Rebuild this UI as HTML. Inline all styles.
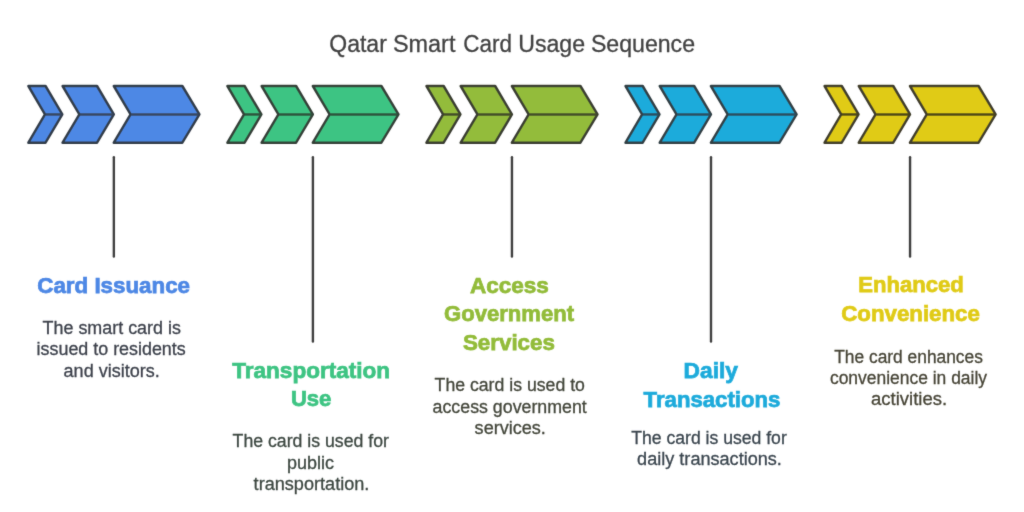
<!DOCTYPE html>
<html lang="en">
<head>
<meta charset="utf-8">
<title>Qatar Smart Card Usage Sequence</title>
<style>
html,body{margin:0;padding:0;background:#fff;}
body{width:1024px;height:512px;overflow:hidden;}
svg{display:block;}
text{font-family:"Liberation Sans",sans-serif;}
</style>
</head>
<body>
<svg width="1024" height="512" viewBox="0 0 1024 512">
<defs><filter id="soft" x="0" y="0" width="1024" height="512" filterUnits="userSpaceOnUse"><feConvolveMatrix order="3" kernelMatrix="0.0113 0.0838 0.0113 0.0838 0.6193 0.0838 0.0113 0.0838 0.0113" edgeMode="duplicate" preserveAlpha="false"/></filter></defs>
<rect width="1024" height="512" fill="#ffffff"/>
<g filter="url(#soft)">
<g fill="#4E88E5" stroke="#333C4A" stroke-width="2.5" stroke-linejoin="round" stroke-linecap="round">
<path d="M28.40 86.00L45.50 86.00L62.30 114.45L45.50 142.70L28.40 142.70L45.00 114.45Z"/>
<path d="M62.60 86.00L97.00 86.00L113.80 114.45L97.00 142.70L62.60 142.70L79.40 114.45Z"/>
<path d="M113.80 86.00L182.30 86.00L199.40 114.45L182.30 142.70L113.80 142.70L130.60 114.45Z"/>
</g>
<g fill="none" stroke="#38465F" stroke-width="2.5" stroke-linecap="butt">
<path d="M45.60 114.45L61.70 114.45"/>
<path d="M80.00 114.45L113.20 114.45"/>
<path d="M131.20 114.45L198.80 114.45"/>
</g>
<g fill="#3EC483" stroke="#344039" stroke-width="2.5" stroke-linejoin="round" stroke-linecap="round">
<path d="M227.45 86.00L244.55 86.00L261.35 114.45L244.55 142.70L227.45 142.70L244.05 114.45Z"/>
<path d="M261.65 86.00L296.05 86.00L312.85 114.45L296.05 142.70L261.65 142.70L278.45 114.45Z"/>
<path d="M312.85 86.00L381.35 86.00L398.45 114.45L381.35 142.70L312.85 142.70L329.65 114.45Z"/>
</g>
<g fill="none" stroke="#2D523D" stroke-width="2.5" stroke-linecap="butt">
<path d="M244.65 114.45L260.75 114.45"/>
<path d="M279.05 114.45L312.25 114.45"/>
<path d="M330.25 114.45L397.85 114.45"/>
</g>
<g fill="#93BC3A" stroke="#3A3E31" stroke-width="2.5" stroke-linejoin="round" stroke-linecap="round">
<path d="M426.50 86.00L443.60 86.00L460.40 114.45L443.60 142.70L426.50 142.70L443.10 114.45Z"/>
<path d="M460.70 86.00L495.10 86.00L511.90 114.45L495.10 142.70L460.70 142.70L477.50 114.45Z"/>
<path d="M511.90 86.00L580.40 86.00L597.50 114.45L580.40 142.70L511.90 142.70L528.70 114.45Z"/>
</g>
<g fill="none" stroke="#434B2B" stroke-width="2.5" stroke-linecap="butt">
<path d="M443.70 114.45L459.80 114.45"/>
<path d="M478.10 114.45L511.30 114.45"/>
<path d="M529.30 114.45L596.90 114.45"/>
</g>
<g fill="#1DABDB" stroke="#313F45" stroke-width="2.5" stroke-linejoin="round" stroke-linecap="round">
<path d="M625.55 86.00L642.65 86.00L659.45 114.45L642.65 142.70L625.55 142.70L642.15 114.45Z"/>
<path d="M659.75 86.00L694.15 86.00L710.95 114.45L694.15 142.70L659.75 142.70L676.55 114.45Z"/>
<path d="M710.95 86.00L779.45 86.00L796.55 114.45L779.45 142.70L710.95 142.70L727.75 114.45Z"/>
</g>
<g fill="none" stroke="#2A4E5F" stroke-width="2.5" stroke-linecap="butt">
<path d="M642.75 114.45L658.85 114.45"/>
<path d="M677.15 114.45L710.35 114.45"/>
<path d="M728.35 114.45L795.95 114.45"/>
</g>
<g fill="#E0CB15" stroke="#3F3C2A" stroke-width="2.5" stroke-linejoin="round" stroke-linecap="round">
<path d="M824.60 86.00L841.70 86.00L858.50 114.45L841.70 142.70L824.60 142.70L841.20 114.45Z"/>
<path d="M858.80 86.00L893.20 86.00L910.00 114.45L893.20 142.70L858.80 142.70L875.60 114.45Z"/>
<path d="M910.00 86.00L978.50 86.00L995.60 114.45L978.50 142.70L910.00 142.70L926.80 114.45Z"/>
</g>
<g fill="none" stroke="#4D4619" stroke-width="2.5" stroke-linecap="butt">
<path d="M841.80 114.45L857.90 114.45"/>
<path d="M876.20 114.45L909.40 114.45"/>
<path d="M927.40 114.45L995.00 114.45"/>
</g>
<g stroke="#404040" stroke-width="2.4" stroke-linecap="round" fill="none">
<path d="M113.85 157.30L113.85 256.50"/>
<path d="M312.90 157.30L312.90 341.60"/>
<path d="M511.95 157.30L511.95 256.50"/>
<path d="M711.00 157.30L711.00 341.60"/>
<path d="M910.05 157.30L910.05 256.50"/>
</g>
<text id="title" y="51.80" font-size="23.0" font-weight="400" fill="#434343" stroke="#434343" stroke-width="0.3"><tspan x="329.25" textLength="57.55" lengthAdjust="spacingAndGlyphs">Qatar</tspan> <tspan x="392.90" textLength="62.50" lengthAdjust="spacingAndGlyphs">Smart</tspan> <tspan x="463.25" textLength="48.65" lengthAdjust="spacingAndGlyphs">Card</tspan> <tspan x="518.25" textLength="66.80" lengthAdjust="spacingAndGlyphs">Usage</tspan> <tspan x="590.95" textLength="104.10" lengthAdjust="spacingAndGlyphs">Sequence</tspan></text>
<text id="t5" x="37.25" y="293.00" font-size="22.5" font-weight="700" fill="#4E88E5" stroke="#4E88E5" stroke-width="0.75" textLength="152.80" lengthAdjust="spacingAndGlyphs">Card Issuance</text>
<text id="t6" x="42.60" y="334.00" font-size="18.0" font-weight="400" fill="#3D424C" stroke="#3D424C" stroke-width="0.3" textLength="138.30" lengthAdjust="spacingAndGlyphs">The smart card is</text>
<text id="t7" x="36.60" y="355.25" font-size="18.0" font-weight="400" fill="#3D424C" stroke="#3D424C" stroke-width="0.3" textLength="149.15" lengthAdjust="spacingAndGlyphs">issued to residents</text>
<text id="t8" x="63.60" y="376.50" font-size="18.0" font-weight="400" fill="#3D424C" stroke="#3D424C" stroke-width="0.3" textLength="96.15" lengthAdjust="spacingAndGlyphs">and visitors.</text>
<text id="t9" x="232.25" y="378.25" font-size="22.5" font-weight="700" fill="#3EC483" stroke="#3EC483" stroke-width="0.75" textLength="157.80" lengthAdjust="spacingAndGlyphs">Transportation</text>
<text id="t10" x="290.95" y="406.25" font-size="22.5" font-weight="700" fill="#3EC483" stroke="#3EC483" stroke-width="0.75" textLength="40.45" lengthAdjust="spacingAndGlyphs">Use</text>
<text id="t11" x="232.60" y="447.40" font-size="18.0" font-weight="400" fill="#3D4842" stroke="#3D4842" stroke-width="0.3" textLength="156.30" lengthAdjust="spacingAndGlyphs">The card is used for</text>
<text id="t12" x="287.10" y="468.75" font-size="18.0" font-weight="400" fill="#3D4842" stroke="#3D4842" stroke-width="0.3" textLength="46.95" lengthAdjust="spacingAndGlyphs">public</text>
<text id="t13" x="253.60" y="490.00" font-size="18.0" font-weight="400" fill="#3D4842" stroke="#3D4842" stroke-width="0.3" textLength="115.80" lengthAdjust="spacingAndGlyphs">transportation.</text>
<text id="t14" x="470.10" y="292.50" font-size="22.5" font-weight="700" fill="#93BC3A" stroke="#93BC3A" stroke-width="0.75" textLength="78.80" lengthAdjust="spacingAndGlyphs">Access</text>
<text id="t15" x="444.10" y="321.25" font-size="22.5" font-weight="700" fill="#93BC3A" stroke="#93BC3A" stroke-width="0.75" textLength="129.95" lengthAdjust="spacingAndGlyphs">Government</text>
<text id="t16" x="462.95" y="349.50" font-size="22.5" font-weight="700" fill="#93BC3A" stroke="#93BC3A" stroke-width="0.75" textLength="91.95" lengthAdjust="spacingAndGlyphs">Services</text>
<text id="t17" x="434.60" y="391.25" font-size="18.0" font-weight="400" fill="#44473B" stroke="#44473B" stroke-width="0.3" textLength="150.30" lengthAdjust="spacingAndGlyphs">The card is used to</text>
<text id="t18" x="432.60" y="412.50" font-size="18.0" font-weight="400" fill="#44473B" stroke="#44473B" stroke-width="0.3" textLength="154.15" lengthAdjust="spacingAndGlyphs">access government</text>
<text id="t19" x="474.60" y="433.75" font-size="18.0" font-weight="400" fill="#44473B" stroke="#44473B" stroke-width="0.3" textLength="71.30" lengthAdjust="spacingAndGlyphs">services.</text>
<text id="t20" x="683.60" y="378.25" font-size="22.5" font-weight="700" fill="#1DABDB" stroke="#1DABDB" stroke-width="0.75" textLength="54.30" lengthAdjust="spacingAndGlyphs">Daily</text>
<text id="t21" x="643.60" y="406.50" font-size="22.5" font-weight="700" fill="#1DABDB" stroke="#1DABDB" stroke-width="0.75" textLength="136.80" lengthAdjust="spacingAndGlyphs">Transactions</text>
<text id="t22" x="631.25" y="444.00" font-size="18.0" font-weight="400" fill="#3B464F" stroke="#3B464F" stroke-width="0.3" textLength="155.50" lengthAdjust="spacingAndGlyphs">The card is used for</text>
<text id="t23" x="637.10" y="465.25" font-size="18.0" font-weight="400" fill="#3B464F" stroke="#3B464F" stroke-width="0.3" textLength="144.80" lengthAdjust="spacingAndGlyphs">daily transactions.</text>
<text id="t24" x="858.25" y="292.25" font-size="22.5" font-weight="700" fill="#E0CB15" stroke="#E0CB15" stroke-width="0.75" textLength="105.50" lengthAdjust="spacingAndGlyphs">Enhanced</text>
<text id="t25" x="841.25" y="320.60" font-size="22.5" font-weight="700" fill="#E0CB15" stroke="#E0CB15" stroke-width="0.75" textLength="138.65" lengthAdjust="spacingAndGlyphs">Convenience</text>
<text id="t26" x="834.25" y="362.70" font-size="18.0" font-weight="400" fill="#474537" stroke="#474537" stroke-width="0.3" textLength="148.65" lengthAdjust="spacingAndGlyphs">The card enhances</text>
<text id="t27" x="829.95" y="383.90" font-size="18.0" font-weight="400" fill="#474537" stroke="#474537" stroke-width="0.3" textLength="157.10" lengthAdjust="spacingAndGlyphs">convenience in daily</text>
<text id="t28" x="871.10" y="404.80" font-size="18.0" font-weight="400" fill="#474537" stroke="#474537" stroke-width="0.3" textLength="76.00" lengthAdjust="spacingAndGlyphs">activities.</text>
</g>
</svg>
</body>
</html>
